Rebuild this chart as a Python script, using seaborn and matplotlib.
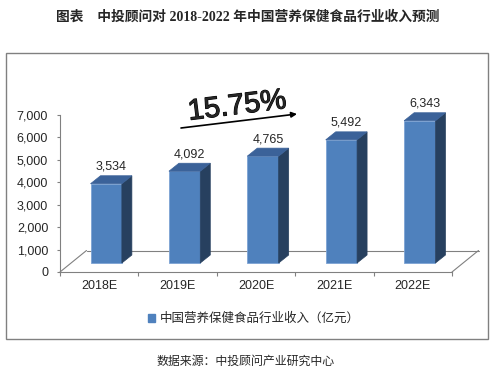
import numpy as np
import pandas as pd
import matplotlib
matplotlib.use('Agg')
import matplotlib.pyplot as plt
import matplotlib.transforms as mtransforms
import matplotlib.patheffects as pe
from matplotlib.patches import Polygon, Rectangle, Patch
from matplotlib.lines import Line2D
import seaborn as sns

# ---- data ----
categories = ['2018E', '2019E', '2020E', '2021E', '2022E']
revenue = [3534, 4092, 4765, 5492, 6343]
y_ticks = [0, 1000, 2000, 3000, 4000, 5000, 6000, 7000]
growth_label = '15.75%'
title = '图表　中投顾问对 2018-2022 年中国营养保健食品行业收入预测'
series_name = '中国营养保健食品行业收入（亿元）'
source = '数据来源：中投顾问产业研究中心'

sns.set_style('white')
plt.rcParams['font.family'] = ['Liberation Sans', 'Noto Sans CJK SC']

FRONT = '#4F81BD'
SIDE = '#27405F'
TOP = '#3B6299'
GRAY = '#808080'

W, H = 501, 376
fig = plt.figure(figsize=(W / 100, H / 100), dpi=100)
fig.patch.set_facecolor('white')


def fx(x):
    return x / W


def fy(y):
    return 1 - y / H


ax = fig.add_axes([fx(60), fy(272), fx(452) - fx(60), fy(115) - fy(272)])
ax.set_facecolor('none')
df = pd.DataFrame({'year': categories, 'revenue': revenue})
sns.barplot(data=df, x='year', y='revenue', color=FRONT, saturation=1,
            width=0.4, ax=ax, edgecolor='#7DA3D4', linewidth=0.6, zorder=3)
ax.set_xlim(-0.5, len(categories) - 0.5)
ax.set_ylim(y_ticks[0], y_ticks[-1])
ax.set_xlabel('')
ax.set_ylabel('')

ax.set_yticks(y_ticks)
ax.set_yticklabels([f'{v:,}' for v in y_ticks], fontsize=9)
ax.set_xticks(range(len(categories)))
ax.set_xticklabels(categories, fontsize=9)
ax.set_xticks(np.arange(-0.5, len(categories), 1.0), minor=True)
ax.tick_params(axis='y', direction='out', length=2.5, width=0.8, color=GRAY, pad=6, left=True)
ax.tick_params(axis='x', which='major', length=0, pad=6)
ax.tick_params(axis='x', which='minor', direction='out', length=3, width=0.8, color=GRAY, bottom=True)
for s in ['top', 'right']:
    ax.spines[s].set_visible(False)
for s in ['left', 'bottom']:
    ax.spines[s].set_color(GRAY)
    ax.spines[s].set_linewidth(0.8)

ident = mtransforms.IdentityTransform()
T = ax.transData

# 3D floor
floor_d = np.array([26.5, 21.5])
p0 = T.transform((-0.5, 0))
p1 = T.transform((len(categories) - 0.5, 0))
for a, b in [(p0, p0 + floor_d), (p0 + floor_d, p1 + floor_d), (p1, p1 + floor_d)]:
    ax.add_line(Line2D([a[0], b[0]], [a[1], b[1]], transform=ident, color=GRAY,
                       lw=0.8, clip_on=False, zorder=1))

# 3D bars
off = np.array([7.0, 9.0])
depth = np.array([10.0, 8.0])
bar_off = mtransforms.ScaledTranslation(off[0] / 100, off[1] / 100, fig.dpi_scale_trans)
bars = [p for p in ax.patches if isinstance(p, Rectangle)]
for patch in bars:
    patch.set_transform(T + bar_off)
    x0, w, h = patch.get_x(), patch.get_width(), patch.get_height()
    bl = T.transform((x0, 0)) + off
    tr = T.transform((x0 + w, h)) + off
    side = [(tr[0], bl[1]), (tr[0], tr[1]), (tr[0] + depth[0], tr[1] + depth[1]),
            (tr[0] + depth[0], bl[1] + depth[1])]
    top = [(bl[0], tr[1]), (tr[0], tr[1]), (tr[0] + depth[0], tr[1] + depth[1]),
           (bl[0] + depth[0], tr[1] + depth[1])]
    ax.add_patch(Polygon(side, closed=True, transform=ident, facecolor=SIDE,
                         edgecolor=SIDE, lw=0.5, clip_on=False, zorder=3))
    ax.add_patch(Polygon(top, closed=True, transform=ident, facecolor=TOP,
                         edgecolor=TOP, lw=0.5, clip_on=False, zorder=3))
    ax.annotate(f'{h:,.0f}', xy=(x0 + w / 2, h), xycoords='data',
                xytext=(off[0] + depth[0] / 2, off[1] + depth[1] + 3),
                textcoords='offset pixels', ha='center', va='bottom', fontsize=9,
                annotation_clip=False)

# growth annotation
ax.annotate('', xy=(fx(297), fy(114)), xytext=(fx(181), fy(128)),
            xycoords='figure fraction', textcoords='figure fraction',
            arrowprops=dict(arrowstyle='-|>', color='black', lw=1.2, mutation_scale=8,
                            shrinkA=0, shrinkB=0))
fig.text(fx(237), fy(106), growth_label, rotation=7, ha='center', va='center',
         fontsize=21, rotation_mode='anchor',
         path_effects=[pe.withStroke(linewidth=0.8, foreground='black')])

# title
fig.text(fx(248), fy(17), title, ha='center', va='center', fontsize=9.9,
         fontweight='bold', family=['Liberation Serif', 'Noto Sans CJK SC'])

# legend
fig.legend(handles=[Patch(facecolor=FRONT, edgecolor=FRONT)], labels=[series_name],
           loc='center', bbox_to_anchor=(fx(254), fy(319)), frameon=False, fontsize=9,
           handlelength=0.6, handleheight=0.6, handletextpad=0.4)

# frame
fig.add_artist(Rectangle((fx(5.5), fy(339)), fx(488) - fx(5.5), fy(53) - fy(339),
                         transform=fig.transFigure, fill=False, edgecolor=GRAY, lw=1.0))

# source
fig.text(fx(246), fy(362), source, ha='center', va='center', fontsize=8.6)

fig.savefig('out.png', dpi=100, facecolor='white')
